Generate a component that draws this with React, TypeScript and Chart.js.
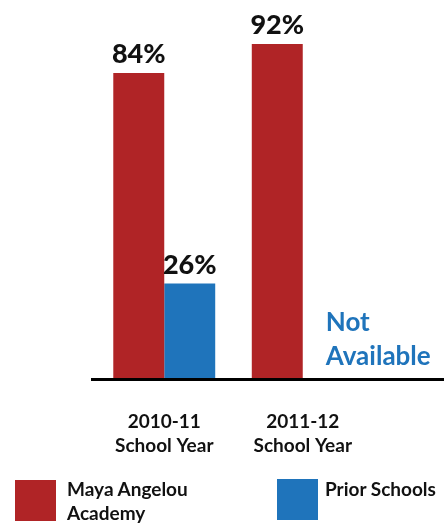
import React, { useEffect, useRef } from "react";
import { Chart, registerables } from "chart.js";

Chart.register(...registerables);

const categories: string[][] = [
  ["2010-11", "School Year"],
  ["2011-12", "School Year"],
];
const mayaValues: (number | null)[] = [84, 92];
const priorValues: (number | null)[] = [26, null];
const seriesNames = ["Maya Angelou Academy", "Prior Schools"];
const notAvailableLines = ["Not", "Available"];

const RED = "#b02426";
const BLUE = "#1f74bb";
const FONT = "Lato, 'Open Sans', sans-serif";

const valueLabelPlugin = {
  id: "valueLabels",
  afterDatasetsDraw(chart: any) {
    const ctx = chart.ctx;
    ctx.save();
    ctx.font = `900 27px ${FONT}`;
    ctx.fillStyle = "#111";
    ctx.textAlign = "center";
    ctx.textBaseline = "alphabetic";
    chart.data.datasets.forEach((ds: any, di: number) => {
      const meta = chart.getDatasetMeta(di);
      meta.data.forEach((el: any, i: number) => {
        const v = ds.data[i];
        if (v === null || v === undefined) return;
        ctx.fillText(`${v}%`, el.x, el.y - 10);
      });
    });
    // "Not Available" for missing values
    const meta0 = chart.getDatasetMeta(0);
    ctx.font = `bold 26px ${FONT}`;
    ctx.fillStyle = BLUE;
    ctx.textAlign = "left";
    chart.data.datasets.forEach((ds: any, di: number) => {
      if (di === 0) return;
      ds.data.forEach((v: any, i: number) => {
        if (v !== null && v !== undefined) return;
        const ref = meta0.data[i] as any;
        const x = ref.x + ref.width / 2 + 23;
        const bottom = chart.chartArea.bottom;
        ctx.fillText(notAvailableLines[0], x, bottom - 47);
        ctx.fillText(notAvailableLines[1], x, bottom - 13);
      });
    });
    ctx.restore();
  },
};

const axisLinePlugin = {
  id: "axisLine",
  afterDatasetsDraw(chart: any) {
    const ctx = chart.ctx;
    const { left, bottom } = chart.chartArea;
    ctx.save();
    ctx.strokeStyle = "#000";
    ctx.lineWidth = 3;
    ctx.beginPath();
    ctx.moveTo(left - 4, bottom + 1.5);
    ctx.lineTo(chart.width - 2, bottom + 1.5);
    ctx.stroke();
    ctx.restore();
  },
};

export default function App() {
  const canvasRef = useRef<HTMLCanvasElement>(null);

  useEffect(() => {
    if (!canvasRef.current) return;
    const chart = new Chart(canvasRef.current, {
      type: "bar",
      data: {
        labels: categories,
        datasets: [
          {
            label: seriesNames[0],
            data: mayaValues,
            backgroundColor: RED,
            borderWidth: 0,
          },
          {
            label: seriesNames[1],
            data: priorValues,
            backgroundColor: BLUE,
            borderWidth: 0,
          },
        ],
      },
      options: {
        animation: false,
        responsive: false,
        layout: { padding: { left: 95, right: 74, top: 15, bottom: 33 } },
        plugins: {
          legend: { display: false },
          tooltip: { enabled: false },
        },
        datasets: {
          bar: { categoryPercentage: 0.736, barPercentage: 1 },
        },
        scales: {
          x: {
            grid: { display: false, drawTicks: false },
            border: { display: false },
            ticks: {
              color: "#111",
              padding: 32,
              font: { family: FONT, size: 19, weight: "bold", lineHeight: 24 / 19 },
            },
          },
          y: {
            display: false,
            min: 0,
            max: 100,
          },
        },
      },
      plugins: [valueLabelPlugin, axisLinePlugin],
    });
    return () => chart.destroy();
  }, []);

  const legendText: React.CSSProperties = {
    position: "absolute",
    fontFamily: FONT,
    fontWeight: 700,
    fontSize: 19,
    lineHeight: "24px",
    color: "#111",
    margin: 0,
  };

  return (
    <div style={{ position: "absolute", left: 0, top: 0, width: 446, height: 523, background: "#fff" }}>
      <canvas ref={canvasRef} width={446} height={523} style={{ display: "block" }} />
      <div style={{ position: "absolute", left: 15, top: 480, width: 41, height: 41, background: RED }} />
      <div style={{ ...legendText, left: 67, top: 477, width: 160 }}>
        Maya Angelou
        <br />
        Academy
      </div>
      <div style={{ position: "absolute", left: 277, top: 479, width: 41, height: 41, background: BLUE }} />
      <div style={{ ...legendText, left: 325, top: 477, whiteSpace: "nowrap" }}>{seriesNames[1]}</div>
    </div>
  );
}
